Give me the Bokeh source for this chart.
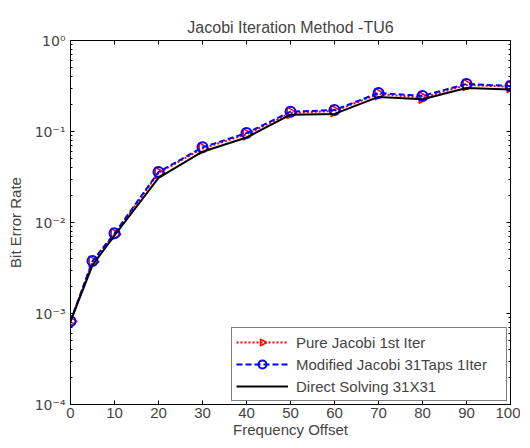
import math
from bokeh.plotting import figure
from bokeh.models import (LogAxis, LinearAxis, LogTicker, FixedTicker, Legend, LegendItem)
from bokeh.embed import file_html
from bokeh.resources import INLINE

freq = [0, 5, 10, 20, 30, 40, 50, 60, 70, 80, 90, 100]
pure_jacobi = [8.2e-4, 3.7e-3, 7.4e-3, 0.035, 0.065, 0.093, 0.160, 0.168, 0.258, 0.235, 0.325, 0.310]
modified_jacobi = [8.2e-4, 3.77e-3, 7.6e-3, 0.0358, 0.067, 0.096, 0.165, 0.172, 0.265, 0.246, 0.333, 0.316]
direct_solving = [8.2e-4, 3.4e-3, 7.2e-3, 0.031, 0.060, 0.086, 0.153, 0.156, 0.240, 0.226, 0.300, 0.290]

x_ticks = [0, 10, 20, 30, 40, 50, 60, 70, 80, 90, 100]
y_ticks = [1e-4, 1e-3, 1e-2, 1e-1, 1.0]
y_tick_labels = ["10\u207b\u2074", "10\u207b\u00b3", "10\u207b\u00b2", "10\u207b\u00b9", "10\u2070"]

FONT = "Liberation Sans"
FS = "15px"

p = figure(width=520, height=440, y_axis_type="log",
           x_range=(0, 100), y_range=(1e-4, 1.0),
           output_backend="svg", toolbar_location=None,
           title="Jacobi Iteration Method -TU6",
           min_border_left=70, min_border_right=10, min_border_top=40, min_border_bottom=20)

p.title.align = "center"
p.title.text_font = FONT
p.title.text_font_style = "normal"
p.title.text_font_size = "16px"

p.xgrid.visible = False
p.ygrid.visible = False
p.outline_line_color = "black"
p.outline_line_width = 1
p.background_fill_color = "white"

def style_axis(ax):
    ax.axis_line_color = "black"
    ax.major_tick_in = 4
    ax.major_tick_out = 0
    ax.minor_tick_in = 2
    ax.minor_tick_out = 0
    ax.major_tick_line_color = "black"
    ax.minor_tick_line_color = "black"
    ax.major_label_text_font = FONT
    ax.major_label_text_font_size = FS
    ax.axis_label_text_font = FONT
    ax.axis_label_text_font_size = FS
    ax.axis_label_text_font_style = "normal"

xa = p.xaxis[0]
xa.ticker = FixedTicker(ticks=x_ticks)
xa.axis_label = "Frequency Offset"
style_axis(xa)
xa.major_label_standoff = 3
xa.axis_label_standoff = 0

ya = p.yaxis[0]
ya.ticker = LogTicker(num_minor_ticks=10)
ya.major_label_overrides = {v: s for v, s in zip(y_ticks, y_tick_labels)}
ya.axis_label = "Bit Error Rate"
style_axis(ya)
ya.major_label_text_font = "DejaVu Sans"
ya.major_label_text_font_size = "14px"
ya.major_label_standoff = 5
ya.axis_label_standoff = 8

top = LinearAxis(ticker=FixedTicker(ticks=x_ticks))
style_axis(top)
top.major_label_text_font_size = "1px"
top.major_label_text_color = None
top.major_label_standoff = 0
p.add_layout(top, "above")

right = LogAxis(ticker=LogTicker(num_minor_ticks=10))
style_axis(right)
right.major_label_text_font_size = "1px"
right.major_label_text_color = None
right.major_label_standoff = 0
p.add_layout(right, "right")

l_pure = p.line(freq, pure_jacobi, line_color="red", line_width=2, line_dash="2 2")
s_pure = p.ngon(x=freq, y=pure_jacobi, radius=1.5, n=3, angle=-math.pi / 2,
                fill_color=None, line_color="red", line_width=1.5)
l_mod = p.line(freq, modified_jacobi, line_color="blue", line_width=2, line_dash="6 3")
s_mod = p.scatter(freq, modified_jacobi, marker="circle", size=10,
                  fill_color=None, line_color="blue", line_width=2)
l_dir = p.line(freq, direct_solving, line_color="black", line_width=2)

legend = Legend(items=[
    LegendItem(label="Pure Jacobi 1st Iter", renderers=[l_pure, s_pure]),
    LegendItem(label="Modified Jacobi 31Taps 1Iter", renderers=[l_mod, s_mod]),
    LegendItem(label="Direct Solving 31X31", renderers=[l_dir]),
], location="bottom_right")
legend.label_text_font = FONT
legend.label_text_font_size = FS
legend.border_line_color = "black"
legend.border_line_width = 1
legend.glyph_width = 52
legend.glyph_height = 20
legend.label_standoff = 8
legend.label_width = 206
legend.spacing = 2
legend.padding = 4
legend.margin = 3
legend.background_fill_alpha = 1
p.add_layout(legend)

open("out.html", "w").write(file_html(p, INLINE))
